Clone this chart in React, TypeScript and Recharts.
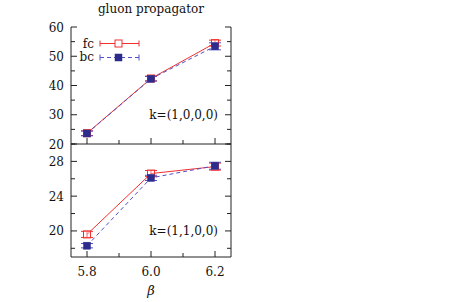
import React from 'react';
import { LineChart, Line, XAxis, YAxis, ErrorBar } from 'recharts';

// ---- data ----
const betas = [5.8, 6.0, 6.2];
const k1000Fc = [23.7, 42.4, 54.5];
const k1000FcErr = [0.8, 0.8, 1.0];
const k1000Bc = [23.6, 42.3, 53.4];
const k1000BcErr = [0.8, 0.8, 1.2];
const k1100Fc = [19.6, 26.6, 27.4];
const k1100FcErr = [0.35, 0.35, 0.4];
const k1100Bc = [18.3, 26.1, 27.5];
const k1100BcErr = [0.25, 0.3, 0.4];

const xMajorTicks = [5.8, 6.0, 6.2];
const xMinorTicks = [5.9, 6.1];
const topMajorTicks = [20, 30, 40, 50, 60];
const topMinorTicks = [25, 35, 45, 55];
const botMajorTicks = [20, 24, 28];
const botMinorTicks = [18, 22, 26, 30];

const xLabel = (v: number) => v.toFixed(1);
const yLabel = (v: number) => String(v);

const topData = betas.map((b, i) => ({
  beta: b,
  fc: k1000Fc[i],
  fcErr: k1000FcErr[i],
  bc: k1000Bc[i],
  bcErr: k1000BcErr[i],
}));
const botData = betas.map((b, i) => ({
  beta: b,
  fc: k1100Fc[i],
  fcErr: k1100FcErr[i],
  bc: k1100Bc[i],
  bcErr: k1100BcErr[i],
}));

// ---- styles ----
const FONT = '"DejaVu Serif", serif';
const RED = '#f23030';
const NAVY = '#2c2c8c';
const BLUE = '#5050c8';
const FRAME = '#222';
const MAJOR = 6;
const MINOR = 4;
const LEFT_MARGIN = 7;

type Side = 'left' | 'right' | 'top' | 'bottom';

const makeTick = (side: Side, majors: number[], labelFn: ((v: number) => string) | null) => (props: any) => {
  const { x, y, payload, index } = props;
  const v = payload.value;
  const major = majors.some((m) => Math.abs(m - v) < 1e-9);
  const len = major ? MAJOR : MINOR;
  let line: React.ReactNode = null;
  let label: React.ReactNode = null;
  if (side === 'left') {
    const e = x + LEFT_MARGIN;
    line = <line x1={e} x2={e + len} y1={y} y2={y} stroke={FRAME} strokeWidth={1} />;
    if (labelFn && major)
      label = (
        <text x={x} y={y + 4.5} textAnchor="end" fontFamily={FONT} fontSize={12} fill="#111">
          {labelFn(v)}
        </text>
      );
  } else if (side === 'right') {
    line = <line x1={x} x2={x - len} y1={y} y2={y} stroke={FRAME} strokeWidth={1} />;
  } else if (side === 'top') {
    line = <line x1={x} x2={x} y1={y} y2={y + len} stroke={FRAME} strokeWidth={1} />;
  } else {
    line = <line x1={x} x2={x} y1={y} y2={y - len} stroke={FRAME} strokeWidth={1} />;
    if (labelFn && major)
      label = (
        <text x={x} y={y + 19} textAnchor="middle" fontFamily={FONT} fontSize={12} fill="#111">
          {labelFn(v)}
        </text>
      );
  }
  return (
    <g key={`${side}-${index}`}>
      {line}
      {label}
    </g>
  );
};

const openSquare = (props: any) => {
  const { cx, cy, index } = props;
  return (
    <rect key={`fcd-${index}`} x={cx - 3.5} y={cy - 3.5} width={7} height={7} fill="#fff" fillOpacity={0.3} stroke={RED} strokeWidth={1} />
  );
};
const filledSquare = (props: any) => {
  const { cx, cy, index } = props;
  return <rect key={`bcd-${index}`} x={cx - 3.5} y={cy - 3.5} width={7} height={7} fill={NAVY} stroke={NAVY} strokeWidth={0.5} />;
};

const xTicksAll = [...xMajorTicks, ...xMinorTicks].sort((a, b) => a - b);

function Panel(props: {
  data: any[];
  height: number;
  marginTop: number;
  bottomHeight: number;
  domain: [number, number];
  majors: number[];
  minors: number[];
  showX: boolean;
}) {
  const { data, height, marginTop, bottomHeight, domain, majors, minors, showX } = props;
  const yTicks = [...majors, ...minors].sort((a, b) => a - b);
  const axisLine = { stroke: FRAME, strokeWidth: 1 };
  return (
    <LineChart width={463} height={height} data={data} margin={{ top: marginTop, right: 0, bottom: 0, left: 0 }}>
      <XAxis
        xAxisId="b"
        dataKey="beta"
        type="number"
        domain={[5.75, 6.25]}
        ticks={xTicksAll}
        interval={0}
        allowDataOverflow
        orientation="bottom"
        height={bottomHeight}
        tickSize={0}
        tickMargin={0}
        tickLine={false}
        axisLine={axisLine}
        tick={makeTick('bottom', xMajorTicks, showX ? xLabel : null)}
      />
      <XAxis
        xAxisId="t"
        dataKey="beta"
        type="number"
        domain={[5.75, 6.25]}
        ticks={xTicksAll}
        interval={0}
        allowDataOverflow
        orientation="top"
        height={0}
        tickSize={0}
        tickMargin={0}
        tickLine={false}
        axisLine={axisLine}
        tick={makeTick('top', xMajorTicks, null)}
      />
      <YAxis
        yAxisId="l"
        type="number"
        domain={domain}
        ticks={yTicks}
        interval={0}
        allowDataOverflow
        orientation="left"
        width={71}
        tickSize={0}
        tickMargin={LEFT_MARGIN}
        tickLine={false}
        axisLine={axisLine}
        tick={makeTick('left', majors, yLabel)}
      />
      <YAxis
        yAxisId="r"
        type="number"
        domain={domain}
        ticks={yTicks}
        interval={0}
        allowDataOverflow
        orientation="right"
        width={232}
        tickSize={0}
        tickMargin={0}
        tickLine={false}
        axisLine={axisLine}
        tick={makeTick('right', majors, null)}
      />
      <Line
        xAxisId="b"
        yAxisId="l"
        dataKey="fc"
        stroke={RED}
        strokeWidth={1}
        dot={openSquare}
        activeDot={false}
        isAnimationActive={false}
      >
        <ErrorBar dataKey="fcErr" width={6} stroke={RED} strokeWidth={1} direction="y" isAnimationActive={false} />
      </Line>
      <Line
        xAxisId="b"
        yAxisId="l"
        dataKey="bc"
        stroke={BLUE}
        strokeWidth={1}
        strokeDasharray="4 3"
        dot={filledSquare}
        activeDot={false}
        isAnimationActive={false}
      >
        <ErrorBar dataKey="bcErr" width={6} stroke={BLUE} strokeWidth={1} direction="y" isAnimationActive={false} />
      </Line>
    </LineChart>
  );
}

export default function App() {
  return (
    <div style={{ position: 'absolute', left: 0, top: 0, width: 463, height: 302, background: '#fff' }}>
      <div style={{ position: 'absolute', left: 0, top: 0 }}>
        <Panel data={topData} height={150} marginTop={27} bottomHeight={6} domain={[20, 60]} majors={topMajorTicks} minors={topMinorTicks} showX={false} />
      </div>
      <div style={{ position: 'absolute', left: 0, top: 130 }}>
        <Panel data={botData} height={172} marginTop={14} bottomHeight={45} domain={[17, 30]} majors={botMajorTicks} minors={botMinorTicks} showX={true} />
      </div>
      <svg width={463} height={302} style={{ position: 'absolute', left: 0, top: 0, pointerEvents: 'none' }}>
        <text x={151} y={13} textAnchor="middle" fontFamily={FONT} fontSize={12} fill="#111">
          gluon propagator
        </text>
        {/* legend */}
        <text x={94} y={47.5} textAnchor="end" fontFamily={FONT} fontSize={12} fill="#111">fc</text>
        <line x1={100} x2={139} y1={43.5} y2={43.5} stroke={RED} strokeWidth={1} />
        <line x1={100} x2={100} y1={40.5} y2={46.5} stroke={RED} strokeWidth={1} />
        <line x1={139} x2={139} y1={40.5} y2={46.5} stroke={RED} strokeWidth={1} />
        <rect x={115} y={40} width={7} height={7} fill="#fff" stroke={RED} strokeWidth={1} />
        <text x={94} y={61} textAnchor="end" fontFamily={FONT} fontSize={12} fill="#111">bc</text>
        <line x1={100} x2={139} y1={57.5} y2={57.5} stroke={BLUE} strokeWidth={1} strokeDasharray="4 3" />
        <line x1={100} x2={100} y1={54.5} y2={60.5} stroke={BLUE} strokeWidth={1} />
        <line x1={139} x2={139} y1={54.5} y2={60.5} stroke={BLUE} strokeWidth={1} />
        <rect x={115} y={54} width={7} height={7} fill={NAVY} stroke={NAVY} strokeWidth={0.5} />
        {/* panel labels */}
        <text x={218} y={119} textAnchor="end" fontFamily={FONT} fontSize={12} fill="#111">k=(1,0,0,0)</text>
        <text x={218} y={235} textAnchor="end" fontFamily={FONT} fontSize={12} fill="#111">k=(1,1,0,0)</text>
        <text x={151} y={295} textAnchor="middle" fontFamily={FONT} fontSize={13} fontStyle="italic" fill="#111">β</text>
      </svg>
    </div>
  );
}
